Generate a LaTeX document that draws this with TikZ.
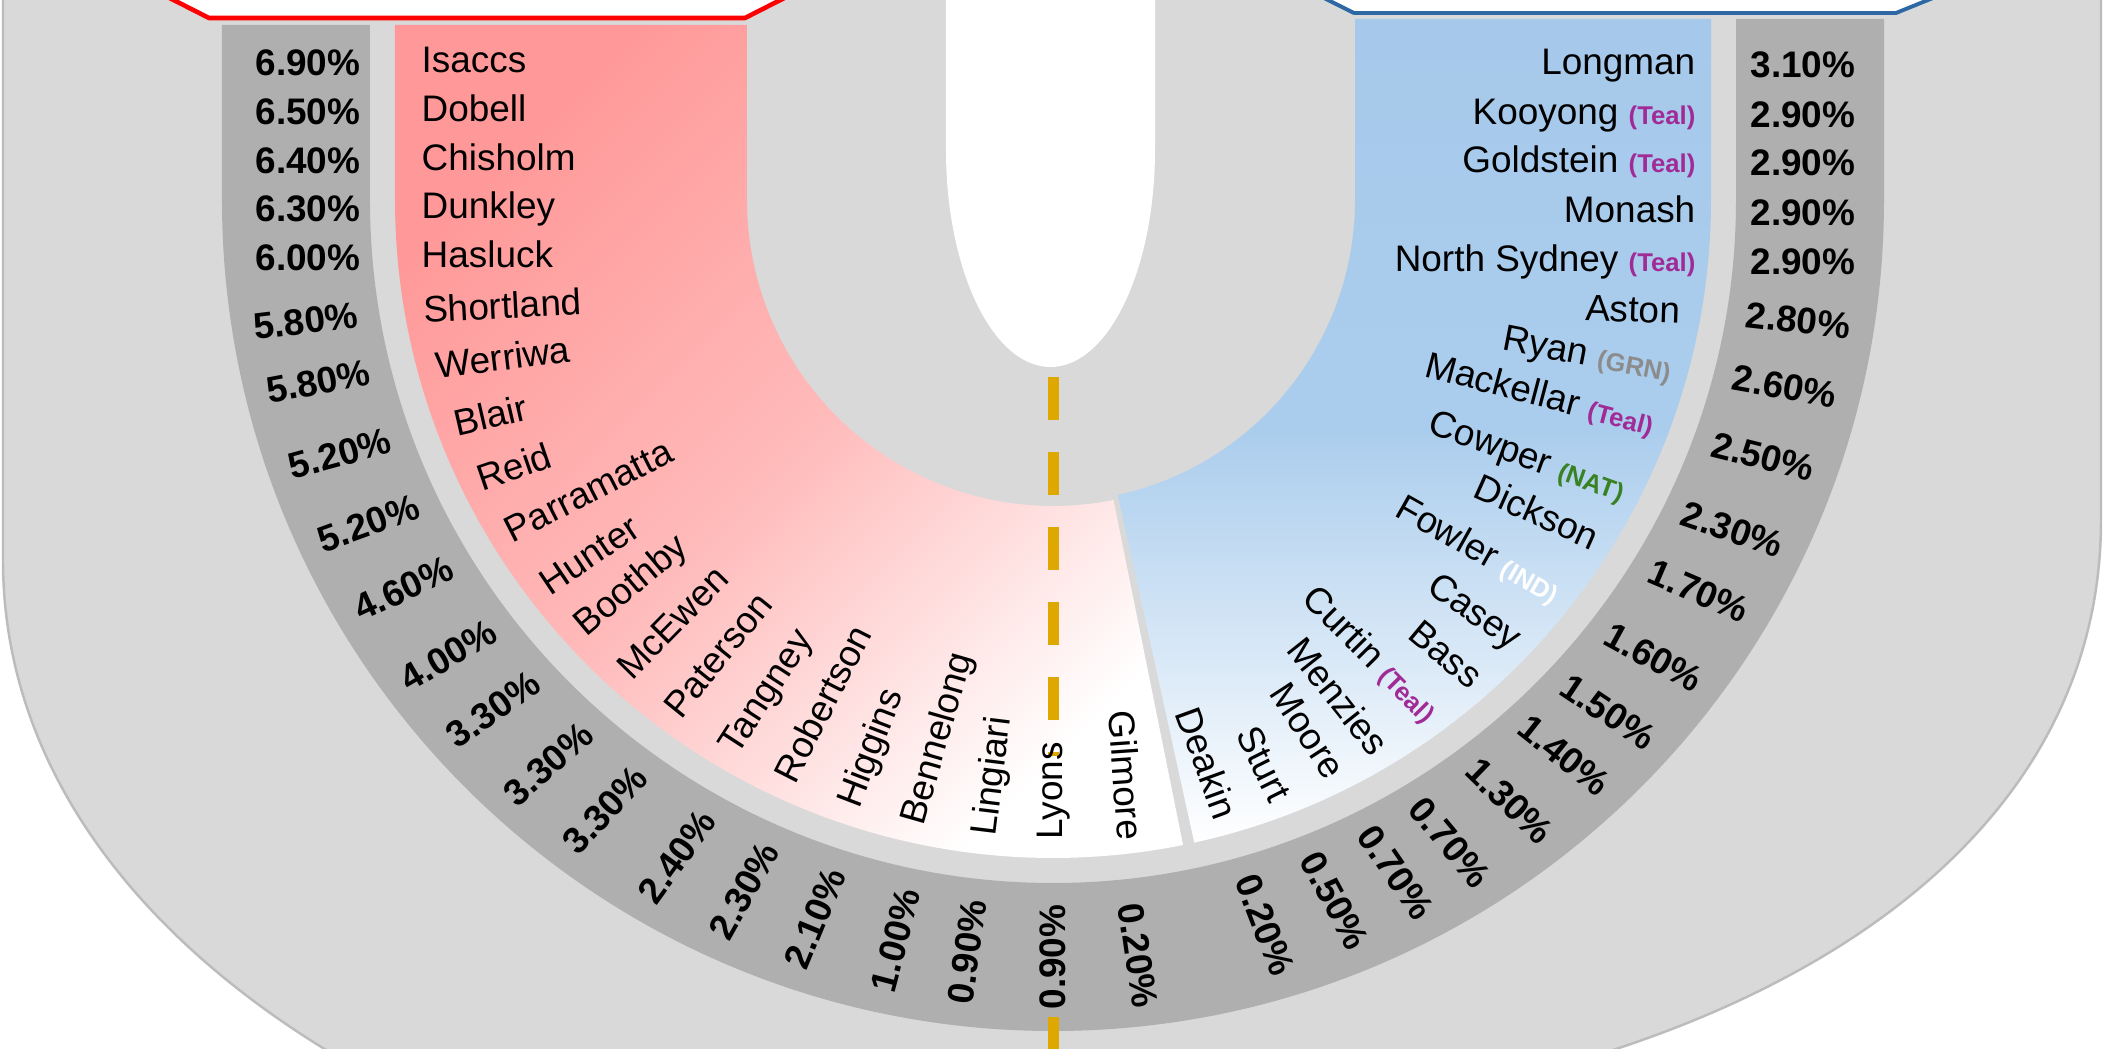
\documentclass[tikz,border=0pt]{standalone}
\usepackage{fontspec}
\setmainfont{Liberation Sans}
\definecolor{shellgray}{RGB}{217,217,217}
\definecolor{edgegray}{RGB}{188,188,188}
\definecolor{bandgray}{RGB}{175,175,175}
\definecolor{redtop}{RGB}{255,153,153}
\definecolor{redmid}{RGB}{255,186,186}
\definecolor{bluetop}{RGB}{166,201,235}
\definecolor{bluemid}{RGB}{171,205,237}
\definecolor{alpred}{RGB}{255,0,0}
\definecolor{lnpblue}{RGB}{46,104,164}
\definecolor{roadgold}{RGB}{223,168,0}
\definecolor{tealc}{RGB}{160,43,150}
\definecolor{grnc}{RGB}{140,140,140}
\definecolor{natc}{RGB}{56,130,36}
\newcommand{\ptag}[2]{{\fontsize{7.3}{8}\selectfont\bfseries\textcolor{#1}{(#2)}}}
\begin{document}
\begin{tikzpicture}[x=0.01cm,y=0.01cm,line join=round,
	seat/.style={inner sep=0pt,font=\fontsize{10.5}{12}\selectfont,text height=7.6pt,text depth=2.2pt},
	swing/.style={inner sep=0pt,font=\fontsize{10.5}{12}\selectfont\bfseries,text height=7.6pt,text depth=0.5pt},
	road/.style={roadgold,line width=3.1pt,dash pattern=on 12.2pt off 9.1pt}]
	\useasboundingbox (-1053,-849) rectangle (1059,200);
	\fill[white] (-1053,-849) rectangle (1059,200);
	% outer shell and inner gap
	\fill[shellgray,draw=edgegray,line width=0.7pt] (-1050,215) -- (-1050,-360) .. controls (-1050,-768) and (-525,-1040) .. (0,-1040) -- (560,-850) .. controls (850,-755) and (1048,-575) .. (1048,-320) -- (1048,215) -- cycle;
	\fill[white] (-107,215) -- (-107,50) arc[start angle=180,end angle=360,x radius=104.5,y radius=217] -- (102,215) -- cycle;
	% margin band
	\fill[bandgray] (-831,175) -- (-831,0) arc[start angle=180,end angle=360,radius=831] -- (831,181) -- (683,181) -- (683,0) arc[start angle=0,end angle=-180,radius=683] -- (-683,175) -- cycle;
	% seat bands
	\shade[top color=redtop,bottom color=white,middle color=redmid,shading angle=45] (-658,175) -- (-658,0) arc[start angle=180,end angle=281.4,radius=658] -- (281.4:306) arc[start angle=281.4,end angle=180,radius=306] -- (-306,175) -- cycle;
	\shade[top color=bluetop,bottom color=white,middle color=bluemid] (658,181) -- (658,0) arc[start angle=0,end angle=-77.6,radius=658] -- (-77.6:302) arc[start angle=-77.6,end angle=0,radius=302] -- (302,181) -- cycle;
	% header boxes
	\draw[alpred,line width=1.3pt,fill=white] (-909,215) -- (-844,182) -- (-308,182) -- (-243,215);
	\draw[lnpblue,line width=1.1pt,fill=white] (245,215) -- (301,187) -- (843,187) -- (912,215);
	% centre line
	\draw[road] (0.5,-177) -- (0.5,-556);
	\draw[road] (0.5,-817) -- (0.5,-870);
	% Labor side
	\foreach \y/\nm [count=\i] in {137/Isaccs,88/Dobell,39/Chisholm,-9/Dunkley,-58/Hasluck}
		\node[seat,anchor=west] (alpa\i) at (-632,\y) {\nm};
	\foreach \y/\m [count=\i] in {137/6.90,88/6.50,39/6.40,-9/6.30,-58/6.00}
		\node[swing] (alpma\i) at (-745,\y) {\m\%};
	\foreach \a/\rot/\nm [count=\i] in {190.2/3/Shortland,195.3/7/Werriwa,200.8/13/Blair,206.2/19/Reid,211.6/27/Parramatta,217.4/34/Hunter,222.3/40/Boothby,228/45.5/McEwen,233.6/51/Paterson,239.6/57/Tangney,245.4/63/Robertson,251.5/69/Higgins,257.5/74/Bennelong,264/83/Lingiari,270/90/Lyons}
		\node[seat,anchor=west,rotate=\rot] (alpb\i) at (\a:640) {\nm};
	\node[seat,anchor=east,rotate=-86] (alpb16) at (276.6:645) {Gilmore};
	\foreach \a/\m [count=\i] in {189.2/5.80,193.9/5.80,199.6/5.20,205.3/5.20,210.9/4.60,217/4.00,222.3/3.30,228.2/3.30,233.7/3.30,240.2/2.40,245.9/2.30,251.7/2.10,258/1.00,263.5/0.90,270/0.90}{
		\pgfmathsetmacro\rot{\a-180-7*sin(2*(\a-180))}
		\node[swing,rotate=\rot] (alpmb\i) at (\a:757) {\m\%};
	}
	\node[swing,rotate=-81.7] (alpmb16) at (276.4:760) {0.20\%};
	% Coalition side
	\foreach \y/\nm [count=\i] in {135/Longman,85/{Kooyong \ptag{tealc}{Teal}},37/{Goldstein \ptag{tealc}{Teal}},-13/Monash,-62/{North Sydney \ptag{tealc}{Teal}}}
		\node[seat,anchor=east] (lnpa\i) at (643,\y) {\nm};
	\foreach \y/\m [count=\i] in {135/3.10,85/2.90,37/2.90,-13/2.90,-62/2.90}
		\node[swing] (lnpma\i) at (750,\y) {\m\%};
	\node[seat,anchor=east,rotate=-2] (lnpb1) at (-10.3:638) {Aston};
	\foreach \a/\nm [count=\i from 2] in {-15.6/{Ryan \ptag{grnc}{GRN}},-20.7/{Mackellar \ptag{tealc}{Teal}},-27.2/{Cowper \ptag{natc}{NAT}},-32.2/Dickson,-38.2/{Fowler \ptag{white}{IND}},-43.7/Casey,-48.8/Bass,-53.9/{Curtin \ptag{tealc}{Teal}},-59.5/Menzies,-64/Moore,-69.4/Sturt,-74.6/Deakin}{
		\pgfmathsetmacro\rot{\a-9*sin(2*\a)}
		\node[seat,anchor=east,rotate=\rot] (lnpb\i) at (\a:642) {\nm};
	}
	\foreach \a/\m [count=\i] in {-9.2/2.80,-14.3/2.60,-19.9/2.50,-25.9/2.30,-31.2/1.70,-37.3/1.60,-42.7/1.50,-47.4/1.40,-52.8/1.30,-58.3/0.70,-63/0.70,-68.1/0.50,-73.7/0.20}{
		\pgfmathsetmacro\rot{\a-9*sin(2*\a)}
		\node[swing,rotate=\rot] (lnpmb\i) at (\a:755) {\m\%};
	}
\end{tikzpicture}
\end{document}
